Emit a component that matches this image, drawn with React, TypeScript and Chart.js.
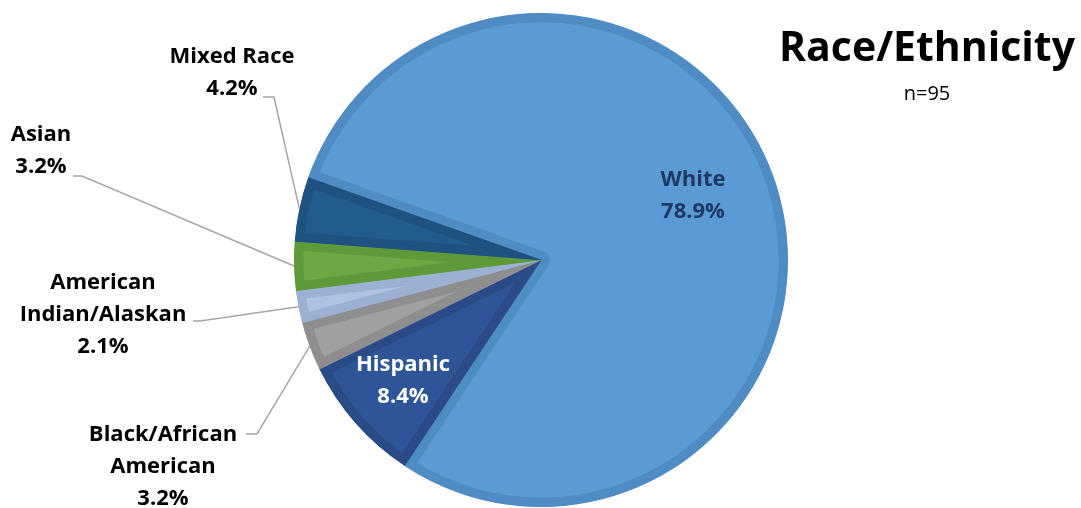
import React, { useEffect, useRef } from "react";
import { Chart, registerables } from "chart.js";

Chart.register(...registerables);

const categories = [
  "White",
  "Hispanic",
  "Black/African American",
  "American Indian/Alaskan",
  "Asian",
  "Mixed Race",
];
const percentages = [78.9, 8.4, 3.2, 2.1, 3.2, 4.2];
const labelLines = [
  ["White", "78.9%"],
  ["Hispanic", "8.4%"],
  ["Black/African", "American", "3.2%"],
  ["American", "Indian/Alaskan", "2.1%"],
  ["Asian", "3.2%"],
  ["Mixed Race", "4.2%"],
];
const titleText = "Race/Ethnicity";
const subtitleText = "n=95";

const fills = ["#5B9BD5", "#2E5597", "#A0A0A0", "#AFC2E3", "#6CA743", "#225B8D"];
const borders = ["#4F8CC6", "#294B87", "#8E8E8E", "#9CB0D4", "#5E9A3A", "#1F5281"];

const FONT = "'Open Sans', sans-serif";

const labelLayout: any[] = [
  { x: 693, y: 180, color: "#1F3864" },
  { x: 403, y: 365, color: "#FFFFFF" },
  { x: 163, y: 435, color: "#000000", lx0: 246, ly: 434, lx1: 257 },
  { x: 103, y: 283, color: "#000000", lx0: 193, ly: 321, lx1: 200 },
  { x: 41, y: 135, color: "#000000", lx0: 73, ly: 176, lx1: 82 },
  { x: 232, y: 57, color: "#000000", lx0: 263, ly: 97, lx1: 274 },
];

const labelPlugin = {
  id: "customLabels",
  afterDraw(chart: any) {
    const ctx = chart.ctx;
    const meta = chart.getDatasetMeta(0);
    ctx.save();
    meta.data.forEach((arc: any, i: number) => {
      const L = labelLayout[i];
      if (L.lx0 === undefined) return;
      const mid = (arc.startAngle + arc.endAngle) / 2;
      const ex = arc.x + Math.cos(mid) * arc.outerRadius;
      const ey = arc.y + Math.sin(mid) * arc.outerRadius;
      ctx.beginPath();
      ctx.strokeStyle = "#A6A6A6";
      ctx.lineWidth = 1.5;
      ctx.moveTo(L.lx0, L.ly);
      ctx.lineTo(L.lx1, L.ly);
      ctx.lineTo(ex, ey);
      ctx.stroke();
    });
    ctx.textAlign = "center";
    ctx.textBaseline = "middle";
    ctx.font = `bold 22px ${FONT}`;
    labelLines.forEach((lines, i) => {
      const L = labelLayout[i];
      ctx.fillStyle = L.color;
      lines.forEach((t, j) => ctx.fillText(t, L.x, L.y + j * 32));
    });
    ctx.fillStyle = "#000000";
    ctx.textBaseline = "alphabetic";
    ctx.font = `bold 41px ${FONT}`;
    ctx.fillText(titleText, 927, 61);
    ctx.font = `20px ${FONT}`;
    ctx.fillText(subtitleText, 927, 100);
    ctx.restore();
  },
};

export default function App() {
  const ref = useRef<HTMLCanvasElement>(null);
  useEffect(() => {
    document.body.style.margin = "0";
    const chart = new Chart(ref.current!, {
      type: "pie",
      data: {
        labels: categories,
        datasets: [
          {
            data: percentages,
            backgroundColor: fills,
            borderColor: borders,
            borderWidth: 9,
            borderAlign: "inner",
            hoverOffset: 0,
            offset: 0,
            radius: 247,
          } as any,
        ],
      },
      options: {
        responsive: false,
        animation: false,
        rotation: -70.5,
        layout: { padding: { left: 294, right: 293, top: 13, bottom: 1 } },
        plugins: {
          legend: { display: false },
          tooltip: { enabled: false },
          title: { display: false },
        },
      },
      plugins: [labelPlugin],
    });
    return () => chart.destroy();
  }, []);
  return (
    <div style={{ width: 1081, height: 508, background: "#fff" }}>
      <canvas ref={ref} width={1081} height={508} />
    </div>
  );
}
